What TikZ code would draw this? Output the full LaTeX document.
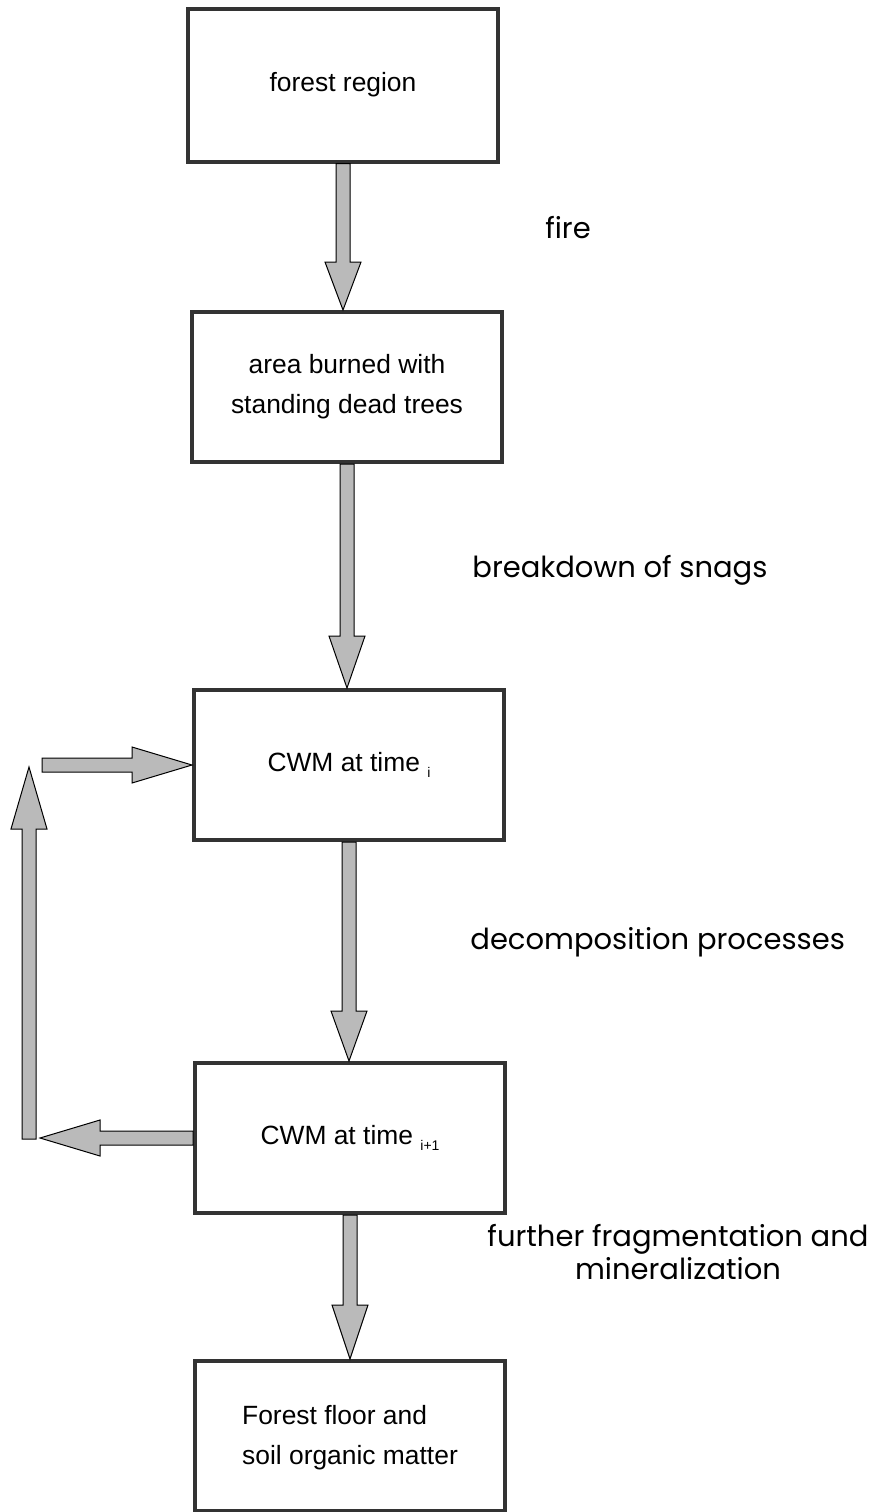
\documentclass[tikz,border=0pt]{standalone}
\usepackage{fontspec}
\setmainfont{Liberation Sans}
\newfontfamily\lblfont{Poppins}
\usetikzlibrary{calc}

\newcommand\blockarrow[3][24pt]{%
  \draw[barrow] ($(#2)!3.5pt!90:(#3)$)
    -- ($(#3)!#1!(#2)!3.5pt!-90:(#2)$)
    -- ($(#3)!#1!(#2)!9pt!-90:(#2)$)
    -- (#3)
    -- ($(#3)!#1!(#2)!9pt!90:(#2)$)
    -- ($(#3)!#1!(#2)!3.5pt!90:(#2)$)
    -- ($(#2)!3.5pt!-90:(#3)$) -- cycle;}
\newcommand\sub[1]{{\fontsize{7pt}{7pt}\selectfont\raisebox{-3pt}{#1}}}

\begin{document}
\begin{tikzpicture}
      [x=0.5pt,y=-0.5pt
      ,box/.style={draw=black!80,line width=2pt,fill=white,inner sep=0pt
                  ,minimum width=155pt,minimum height=75pt
                  ,font=\fontsize{13.2pt}{20pt}\selectfont,align=center}
      ,barrow/.style={draw=black,line width=0.5pt,fill=black!27,line join=miter}
      ,lbl/.style={font=\lblfont\fontsize{14.5pt}{16.5pt}\selectfont,inner sep=0pt}
      ]
        \useasboundingbox (0,0) rectangle (879,1512);
        \node[box,minimum height=76.5pt] (region) at (343,85) {forest region};
        \node[box] (burned) at (347,387) {area burned with\\standing dead trees};
        \node[box] (cwmi) at (349,765) {CWM at time \sub{i}};
        \node[box] (cwmnext) at (350,1138) {CWM at time \sub{i+1}};
        \node[box] (floor) at (350,1436) {\begin{tabular}{@{}l@{}}Forest floor and\\soil organic matter\end{tabular}};

        \blockarrow{region.south}{region.south |- burned.north}
        \blockarrow[26pt]{burned.south}{burned.south |- cwmi.north}
        \blockarrow[25pt]{cwmi.south}{cwmi.south |- cwmnext.north}
        \blockarrow[27pt]{cwmnext.south}{cwmnext.south |- floor.north}

        \coordinate (backtip) at (40,1138);
        \coordinate (upfoot) at (29,1139);
        \coordinate (uptip) at (29,767);
        \coordinate (intail) at (42,765);
        \blockarrow[30pt]{cwmnext.west}{backtip}
        \blockarrow[31pt]{upfoot}{uptip}
        \blockarrow[30pt]{intail}{cwmi.west}

        \node[lbl] (fire) at (568,228) {fire};
        \node[lbl,anchor=west] (snags) at (472,570) {breakdown of snags};
        \node[lbl,anchor=west] (decomp) at (470,942) {decomposition processes};
        \node[lbl,align=center] (fragm) at (678,1252) {further fragmentation and\\mineralization};
\end{tikzpicture}
\end{document}
